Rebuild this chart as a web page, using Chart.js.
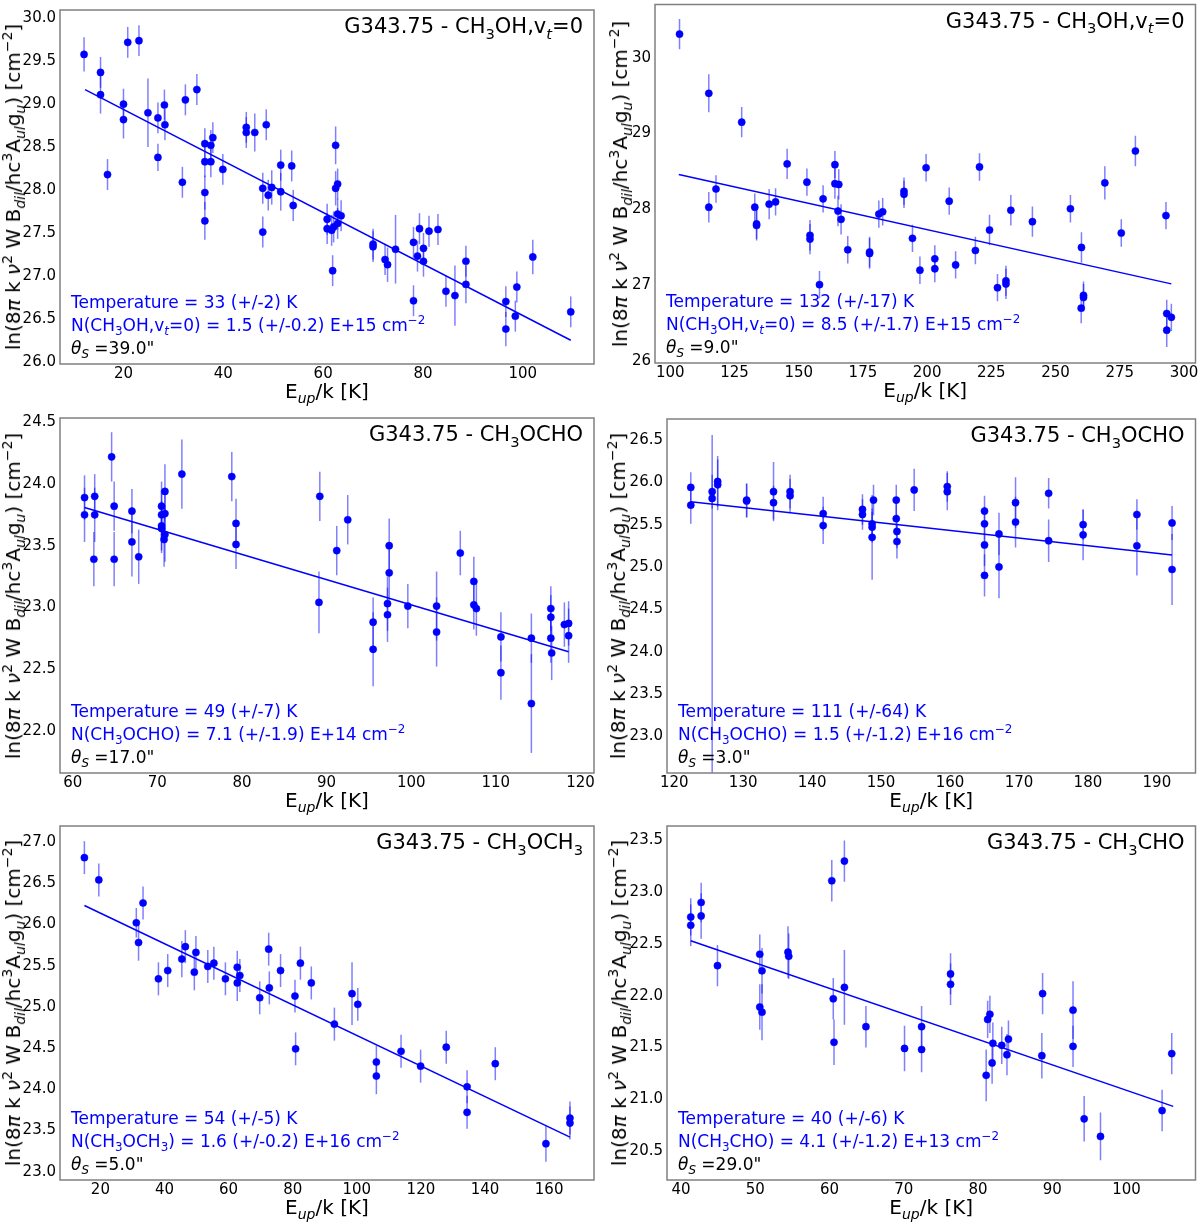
<!DOCTYPE html>
<html>
<head>
<meta charset="utf-8">
<script src="https://cdn.jsdelivr.net/npm/chart.js@4.4.1/dist/chart.umd.min.js"></script>
<style>
  body { margin: 0; background: #fff; width: 1200px; height: 1222px; position: relative; overflow: hidden;
         font-family: "DejaVu Sans", sans-serif; }
  .cell { position: absolute; width: 600px; }
  .cell canvas { position: absolute; left: 0; top: 0; }
  .txt { position: absolute; white-space: nowrap; line-height: 1; color: #000; }
  .txt sub, .txt sup { font-size: 0.7em; line-height: 0; vertical-align: baseline; position: relative; }
  .txt sub { top: 0.38em; }
  .txt sup { top: -0.55em; }
</style>
</head>
<body>
<script>
// ---- panel 1: CH3OH vt=0, theta 39"
const p1Eup = [12.1, 15.4, 15.4, 16.8, 20.0, 20.0, 20.85, 23.1, 24.9, 26.9,
               26.9, 28.2, 28.3, 31.8, 32.4, 34.7, 36.3, 36.3, 36.3, 36.3,
               37.5, 37.5, 37.9, 39.9, 44.6, 44.6, 46.3, 48.6, 47.9, 47.9,
               49.0, 49.7, 51.5, 51.5, 53.7, 54.0, 60.8, 60.8, 61.7, 62.1,
               61.9, 62.5, 62.5, 62.9, 62.9, 62.9, 63.6, 70.0, 70.0, 72.4,
               72.9, 74.5, 78.1, 78.1, 78.9, 79.3, 80.1, 80.1, 81.2, 83.0,
               84.6, 86.4, 88.6, 88.6, 96.6, 96.6, 98.5, 98.8, 102.0, 109.6];
const p1LnN = [29.58, 29.37, 29.11, 28.18, 29.00, 28.82, 29.72, 29.74, 28.90, 28.84,
               28.38, 28.99, 28.76, 28.09, 29.05, 29.17, 28.54, 28.33, 27.97, 27.64,
               28.52, 28.33, 28.61, 28.24, 28.73, 28.67, 28.67, 28.76, 28.02, 27.51,
               27.94, 28.03, 28.29, 27.98, 28.28, 27.82, 27.66, 27.55, 27.53, 27.57,
               27.06, 28.52, 28.02, 28.07, 27.72, 27.61, 27.70, 27.37, 27.34, 27.19,
               27.13, 27.31, 27.39, 26.71, 27.23, 27.55, 27.32, 27.17, 27.52, 27.54,
               26.82, 26.77, 27.17, 26.90, 26.70, 26.38, 26.53, 26.87, 27.22, 26.58];
const p1Err = [0.2, 0.18, 0.22, 0.18, 0.18, 0.22, 0.18, 0.18, 0.4, 0.18,
               0.16, 0.18, 0.18, 0.18, 0.18, 0.18, 0.18, 0.18, 0.2, 0.22,
               0.18, 0.18, 0.18, 0.18, 0.18, 0.18, 0.22, 0.18, 0.18, 0.18,
               0.18, 0.2, 0.18, 0.22, 0.18, 0.18, 0.18, 0.18, 0.18, 0.18,
               0.18, 0.22, 0.2, 0.18, 0.18, 0.18, 0.18, 0.18, 0.18, 0.18,
               0.2, 0.4, 0.18, 0.18, 0.18, 0.18, 0.18, 0.18, 0.18, 0.18,
               0.18, 0.35, 0.18, 0.22, 0.18, 0.2, 0.18, 0.18, 0.2, 0.18];
const p1FitX = [12.3, 109.6];
const p1FitY = [29.17, 26.25];
const p1XTicks = [20, 40, 60, 80, 100];
const p1YTicks = [26.0, 26.5, 27.0, 27.5, 28.0, 28.5, 29.0, 29.5, 30.0];

// ---- panel 2: CH3OH vt=0, theta 9"
const p2Eup = [103.6, 115.0, 115.0, 117.8, 127.8, 132.9, 133.6, 133.6, 138.5, 141.0,
               145.5, 153.2, 154.4, 154.4, 158.1, 159.5, 164.1, 164.1, 165.6, 165.3,
               166.5, 169.1, 177.6, 177.6, 181.2, 182.7, 191.0, 191.0, 194.3, 197.2,
               199.6, 203.0, 203.0, 208.6, 211.1, 218.8, 220.4, 224.3, 227.4, 230.7,
               230.7, 232.6, 241.0, 255.8, 260.1, 260.0, 260.9, 260.9, 269.2, 275.6,
               281.1, 293.0, 293.3, 293.3, 295.1];
const p2LnN = [30.31, 29.53, 28.03, 28.27, 29.15, 28.03, 27.81, 27.79, 28.07, 28.10,
               28.60, 28.36, 27.66, 27.61, 27.01, 28.14, 28.59, 28.34, 28.33, 27.98,
               27.87, 27.47, 27.44, 27.42, 27.94, 27.97, 28.24, 28.20, 27.62, 27.20,
               28.55, 27.35, 27.22, 28.11, 27.27, 27.46, 28.56, 27.73, 26.97, 27.06,
               27.02, 27.99, 27.84, 28.01, 27.50, 26.70, 26.87, 26.84, 28.35, 27.69,
               28.77, 27.92, 26.63, 26.41, 26.58];
const p2Err = [0.2, 0.25, 0.2, 0.18, 0.2, 0.18, 0.2, 0.2, 0.2, 0.18,
               0.2, 0.18, 0.2, 0.2, 0.18, 0.18, 0.18, 0.2, 0.2, 0.2,
               0.2, 0.18, 0.2, 0.2, 0.18, 0.18, 0.18, 0.18, 0.18, 0.18,
               0.18, 0.18, 0.18, 0.18, 0.18, 0.18, 0.18, 0.2, 0.18, 0.2,
               0.2, 0.2, 0.2, 0.18, 0.2, 0.2, 0.18, 0.18, 0.22, 0.18,
               0.2, 0.18, 0.18, 0.22, 0.18];
const p2FitX = [103.3, 295.1];
const p2FitY = [28.46, 27.02];
const p2XTicks = [100, 125, 150, 175, 200, 225, 250, 275, 300];
const p2YTicks = [26, 27, 28, 29, 30];

// ---- panel 3: CH3OCHO, theta 17"
const p3Eup = [61.4, 61.4, 62.6, 62.6, 62.5, 64.6, 64.9, 64.9, 67.0, 67.0,
               67.8, 70.5, 70.5, 70.5, 70.5, 70.9, 70.9, 70.9, 70.8, 72.9,
               78.8, 79.3, 79.3, 89.2, 89.1, 91.2, 92.5, 95.5, 95.5, 97.2,
               97.2, 97.4, 97.4, 99.6, 103.0, 103.0, 105.8, 107.4, 107.4, 107.7,
               110.6, 110.6, 114.2, 114.2, 116.5, 116.5, 116.5, 116.6, 118.1, 118.6,
               118.6];
const p3LnN = [23.89, 23.75, 23.90, 23.75, 23.39, 24.22, 23.82, 23.39, 23.78, 23.53,
               23.41, 23.82, 23.75, 23.66, 23.64, 23.76, 23.94, 23.59, 23.55, 24.08,
               24.06, 23.68, 23.51, 23.90, 23.04, 23.46, 23.71, 22.88, 22.66, 23.03,
               22.94, 23.50, 23.28, 23.01, 23.01, 22.80, 23.44, 23.21, 23.02, 22.99,
               22.76, 22.47, 22.75, 22.22, 22.99, 22.92, 22.75, 22.63, 22.86, 22.87,
               22.77];
const p3Err = [0.18, 0.22, 0.18, 0.22, 0.22, 0.2, 0.2, 0.22, 0.18, 0.28,
               0.22, 0.2, 0.2, 0.2, 0.2, 0.2, 0.22, 0.22, 0.22, 0.28,
               0.2, 0.2, 0.2, 0.2, 0.25, 0.2, 0.2, 0.2, 0.3, 0.22,
               0.22, 0.22, 0.22, 0.18, 0.28, 0.28, 0.18, 0.2, 0.2, 0.22,
               0.2, 0.22, 0.2, 0.4, 0.18, 0.18, 0.2, 0.22, 0.18, 0.18,
               0.22];
const p3FitX = [61.4, 118.6];
const p3FitY = [23.81, 22.64];
const p3XTicks = [60, 70, 80, 90, 100, 110, 120];
const p3YTicks = [22.0, 22.5, 23.0, 23.5, 24.0, 24.5];

// ---- panel 4: CH3OCHO, theta 3"
const p4Eup = [122.4, 122.4, 125.5, 125.5, 126.3, 126.3, 130.5, 130.5, 134.4, 134.4,
               136.8, 136.8, 141.6, 141.6, 147.3, 147.3, 148.7, 148.7, 148.7, 148.9,
               152.2, 152.2, 152.3, 152.3, 154.8, 159.6, 159.6, 165.0, 165.0, 165.0,
               165.0, 167.1, 167.1, 169.5, 169.5, 174.3, 174.3, 179.3, 179.3, 187.1,
               187.1, 192.2, 192.2];
const p4LnN = [25.94, 25.73, 25.89, 25.81, 26.01, 25.97, 25.79, 25.78, 25.89, 25.76,
               25.89, 25.84, 25.63, 25.49, 25.68, 25.62, 25.51, 25.47, 25.35, 25.79,
               25.79, 25.57, 25.42, 25.30, 25.91, 25.95, 25.89, 25.66, 25.51, 25.26,
               24.90, 25.39, 25.00, 25.76, 25.53, 25.87, 25.31, 25.50, 25.38, 25.62,
               25.25, 25.52, 24.97];
const p4ErrUp = [0.18, 0.22, 0.2, 0.75, 0.3, 0.3, 0.2, 0.2, 0.35, 0.2,
                 0.2, 0.2, 0.2, 0.22, 0.18, 0.18, 0.18, 0.18, 0.5, 0.18,
                 0.18, 0.2, 0.2, 0.2, 0.25, 0.18, 0.22, 0.18, 0.2, 0.25,
                 0.25, 0.25, 0.37, 0.3, 0.3, 0.18, 0.25, 0.18, 0.3, 0.18,
                 0.35, 0.2, 0.42];
const p4ErrDown = [0.18, 0.22, 0.2, 3.3, 0.3, 0.3, 0.2, 0.2, 0.35, 0.2,
                   0.2, 0.2, 0.2, 0.22, 0.18, 0.18, 0.18, 0.18, 0.5, 0.18,
                   0.18, 0.2, 0.2, 0.2, 0.25, 0.18, 0.22, 0.18, 0.2, 0.25,
                   0.25, 0.25, 0.37, 0.3, 0.3, 0.18, 0.25, 0.18, 0.3, 0.18,
                   0.35, 0.2, 0.42];
const p4FitX = [122.4, 192.2];
const p4FitY = [25.77, 25.14];
const p4XTicks = [120, 130, 140, 150, 160, 170, 180, 190];
const p4YTicks = [23.0, 23.5, 24.0, 24.5, 25.0, 25.5, 26.0, 26.5];

// ---- panel 5: CH3OCH3, theta 5"
const p5Eup = [15.0, 19.5, 31.2, 31.9, 33.3, 38.1, 41.0, 45.4, 46.5, 49.3,
               49.8, 53.5, 55.4, 59.0, 62.7, 62.7, 63.5, 69.7, 72.5, 72.7,
               76.2, 80.7, 80.9, 82.4, 85.8, 93.0, 98.5, 100.3, 106.1, 106.1,
               113.8, 119.9, 127.9, 134.4, 134.4, 143.2, 159.0, 166.5, 166.5];
const p5LnN = [26.81, 26.54, 26.02, 25.78, 26.26, 25.34, 25.44, 25.58, 25.73, 25.42,
               25.66, 25.49, 25.53, 25.34, 25.48, 25.29, 25.38, 25.11, 25.70, 25.23,
               25.44, 25.13, 24.49, 25.53, 25.29, 24.79, 25.16, 25.03, 24.33, 24.16,
               24.46, 24.28, 24.51, 24.03, 23.72, 24.31, 23.34, 23.65, 23.59];
const p5Err = [0.2, 0.2, 0.18, 0.22, 0.2, 0.2, 0.2, 0.22, 0.2, 0.22,
               0.2, 0.2, 0.2, 0.2, 0.2, 0.22, 0.2, 0.2, 0.2, 0.2,
               0.2, 0.2, 0.2, 0.2, 0.2, 0.2, 0.38, 0.2, 0.2, 0.22,
               0.2, 0.2, 0.2, 0.2, 0.2, 0.2, 0.22, 0.2, 0.2];
const p5FitX = [15.0, 166.5];
const p5FitY = [26.23, 23.42];
const p5XTicks = [20, 40, 60, 80, 100, 120, 140, 160];
const p5YTicks = [23.0, 23.5, 24.0, 24.5, 25.0, 25.5, 26.0, 26.5, 27.0];

// ---- panel 6: CH3CHO, theta 29"
const p6Eup = [41.3, 41.3, 42.7, 42.7, 44.9, 50.6, 50.6, 50.9, 50.9, 54.4,
               54.5, 60.3, 60.5, 60.6, 62.0, 62.0, 64.9, 70.1, 72.4, 72.4,
               76.3, 76.3, 81.1, 81.3, 81.6, 81.9, 82.0, 83.2, 83.9, 84.1,
               88.6, 88.7, 92.8, 92.8, 94.3, 96.5, 104.8, 106.1];
const p6LnN = [22.76, 22.68, 22.90, 22.77, 22.29, 22.40, 21.89, 22.24, 21.84, 22.42,
               22.38, 23.11, 21.97, 21.55, 23.30, 22.08, 21.70, 21.49, 21.70, 21.48,
               22.21, 22.11, 21.23, 21.77, 21.82, 21.35, 21.54, 21.52, 21.43, 21.58,
               21.42, 22.02, 21.86, 21.51, 20.81, 20.64, 20.89, 21.44];
const p6Err = [0.18, 0.2, 0.19, 0.22, 0.2, 0.19, 0.22, 0.22, 0.27, 0.25,
               0.22, 0.2, 0.2, 0.22, 0.2, 0.36, 0.2, 0.22, 0.2, 0.22,
               0.2, 0.2, 0.25, 0.18, 0.18, 0.2, 0.2, 0.18, 0.2, 0.18,
               0.22, 0.2, 0.28, 0.2, 0.22, 0.23, 0.2, 0.2];
const p6FitX = [41.3, 106.3];
const p6FitY = [22.53, 20.93];
const p6XTicks = [40, 50, 60, 70, 80, 90, 100];
const p6YTicks = [20.5, 21.0, 21.5, 22.0, 22.5, 23.0, 23.5];

// ---- labels
const YLABEL = 'ln(8<i>π</i> k <i>ν</i><sup>2</sup> W B<sub><i>dil</i></sub>/hc<sup>3</sup>A<sub><i>ul</i></sub>g<sub><i>u</i></sub>) [cm<sup>−2</sup>]';
const XLABEL = 'E<sub><i>up</i></sub>/k [K]';
const T_CH3OH = 'G343.75 - CH<sub>3</sub>OH,v<sub><i>t</i></sub>=0';
const N_CH3OH = 'N(CH<sub>3</sub>OH,v<sub><i>t</i></sub>=0)';
const theta = s => '<i>θ</i><sub><i>S</i></sub> =' + s + '"';
const cm2 = ' cm<sup>−2</sup>';

const FONT = '"DejaVu Sans", sans-serif';
Chart.defaults.font.family = FONT;
Chart.defaults.color = '#000';

// vertical error bars drawn through the chart's own scales
const errorBars = {
  id: 'errorBars',
  beforeDatasetsDraw(chart) {
    const ds = chart.data.datasets.find(d => d.errUp);
    if (!ds) return;
    const { ctx, chartArea: a, scales: { x, y } } = chart;
    ctx.save();
    ctx.beginPath();
    ctx.rect(a.left, a.top, a.right - a.left, a.bottom - a.top);
    ctx.clip();
    ctx.strokeStyle = 'rgba(0,0,255,0.5)';
    ctx.lineWidth = 1.5;
    ds.data.forEach((p, i) => {
      const px = x.getPixelForValue(p.x);
      ctx.beginPath();
      ctx.moveTo(px, y.getPixelForValue(p.y - ds.errDown[i]));
      ctx.lineTo(px, y.getPixelForValue(p.y + ds.errUp[i]));
      ctx.stroke();
    });
    ctx.restore();
  }
};

// matplotlib-like box around the axes
const frame = {
  id: 'frame',
  afterDatasetsDraw(chart) {
    const { ctx, chartArea: a } = chart;
    ctx.save();
    ctx.strokeStyle = '#808080';
    ctx.lineWidth = 1.5;
    ctx.strokeRect(a.left, a.top, a.right - a.left, a.bottom - a.top);
    ctx.restore();
  }
};

const panels = [
  { left: 0, top: 0, h: 408, padTop: 10, padRight: 6, yW: 60, xH: 44, ylabX: 13,
    xr: [7.28, 114.26], yr: [25.973, 30.097], yDec: 1, xt: p1XTicks, yt: p1YTicks,
    eup: p1Eup, lnN: p1LnN, errUp: p1Err, errDown: p1Err, fitX: p1FitX, fitY: p1FitY,
    title: T_CH3OH,
    notes: ['Temperature = 33 (+/-2) K', N_CH3OH + ' = 1.5 (+/-0.2) E+15' + cm2, theta('39.0')] },
  { left: 600, top: 0, h: 408, padTop: 2, padRight: 1, yW: 55, xH: 45, ylabX: 20,
    xr: [94.05, 304.5], yr: [25.978, 30.70], yDec: 0, xt: p2XTicks, yt: p2YTicks,
    eup: p2Eup, lnN: p2LnN, errUp: p2Err, errDown: p2Err, fitX: p2FitX, fitY: p2FitY,
    title: T_CH3OH,
    notes: ['Temperature = 132 (+/-17) K', N_CH3OH + ' = 8.5 (+/-1.7) E+15' + cm2, theta('9.0')] },
  { left: 0, top: 408, h: 408, padTop: 10, padRight: 6, yW: 60, xH: 43, ylabX: 13,
    xr: [58.5, 121.6], yr: [21.657, 24.535], yDec: 1, xt: p3XTicks, yt: p3YTicks,
    eup: p3Eup, lnN: p3LnN, errUp: p3Err, errDown: p3Err, fitX: p3FitX, fitY: p3FitY,
    title: 'G343.75 - CH<sub>3</sub>OCHO',
    notes: ['Temperature = 49 (+/-7) K', 'N(CH<sub>3</sub>OCHO) = 7.1 (+/-1.9) E+14' + cm2, theta('17.0')] },
  { left: 600, top: 408, h: 408, padTop: 11, padRight: 1, yW: 67, xH: 43, ylabX: 18,
    xr: [118.95, 195.6], yr: [22.566, 26.748], yDec: 1, xt: p4XTicks, yt: p4YTicks,
    eup: p4Eup, lnN: p4LnN, errUp: p4ErrUp, errDown: p4ErrDown, fitX: p4FitX, fitY: p4FitY,
    title: 'G343.75 - CH<sub>3</sub>OCHO',
    notes: ['Temperature = 111 (+/-64) K', 'N(CH<sub>3</sub>OCHO) = 1.5 (+/-1.2) E+16' + cm2, theta('3.0')] },
  { left: 0, top: 816, h: 406, padTop: 10, padRight: 6, yW: 60, xH: 42, ylabX: 13,
    xr: [7.39, 174.0], yr: [22.899, 27.194], yDec: 1, xt: p5XTicks, yt: p5YTicks,
    eup: p5Eup, lnN: p5LnN, errUp: p5Err, errDown: p5Err, fitX: p5FitX, fitY: p5FitY,
    title: 'G343.75 - CH<sub>3</sub>OCH<sub>3</sub>',
    notes: ['Temperature = 54 (+/-5) K', 'N(CH<sub>3</sub>OCH<sub>3</sub>) = 1.6 (+/-0.2) E+16' + cm2, theta('5.0')] },
  { left: 600, top: 816, h: 406, padTop: 10, padRight: 1, yW: 67, xH: 42, ylabX: 19,
    xr: [38.1, 109.3], yr: [20.219, 23.639], yDec: 1, xt: p6XTicks, yt: p6YTicks,
    eup: p6Eup, lnN: p6LnN, errUp: p6Err, errDown: p6Err, fitX: p6FitX, fitY: p6FitY,
    title: 'G343.75 - CH<sub>3</sub>CHO',
    notes: ['Temperature = 40 (+/-6) K', 'N(CH<sub>3</sub>CHO) = 4.1 (+/-1.2) E+13' + cm2, theta('29.0')] }
];

function place(cell, html, css) {
  const d = document.createElement('div');
  d.className = 'txt';
  d.innerHTML = html;
  Object.assign(d.style, css);
  cell.appendChild(d);
}

const tickFont = { family: FONT, size: 15 };

panels.forEach(p => {
  const cell = document.createElement('div');
  cell.className = 'cell';
  cell.style.left = p.left + 'px';
  cell.style.top = p.top + 'px';
  cell.style.height = p.h + 'px';
  document.body.appendChild(cell);

  const canvas = document.createElement('canvas');
  canvas.width = 600;
  canvas.height = p.h;
  cell.appendChild(canvas);

  const points = p.eup.map((e, i) => ({ x: e, y: p.lnN[i] }));
  const fit = p.fitX.map((e, i) => ({ x: e, y: p.fitY[i] }));

  const chart = new Chart(canvas, {
    type: 'scatter',
    data: {
      datasets: [
        { type: 'line', data: fit, borderColor: '#0000ff', borderWidth: 1.5,
          pointRadius: 0, fill: false, tension: 0 },
        { data: points, backgroundColor: '#0000ff', borderColor: '#0000ff',
          borderWidth: 0.5, pointRadius: 3.6, errUp: p.errUp, errDown: p.errDown }
      ]
    },
    options: {
      responsive: false,
      animation: false,
      events: [],
      layout: { padding: { top: p.padTop, right: p.padRight, left: 0, bottom: 0 } },
      plugins: { legend: { display: false }, tooltip: { enabled: false } },
      scales: {
        x: {
          type: 'linear', min: p.xr[0], max: p.xr[1],
          grid: { display: false, drawTicks: false }, border: { display: false },
          afterBuildTicks: s => { s.ticks = p.xt.map(v => ({ value: v })); },
          afterFit: s => { s.height = p.xH; s.paddingLeft = 0; s.paddingRight = 0; },
          ticks: { padding: 1, autoSkip: false, maxRotation: 0, color: '#000', font: tickFont,
                   callback: v => v.toFixed(0) }
        },
        y: {
          type: 'linear', min: p.yr[0], max: p.yr[1],
          grid: { display: false, drawTicks: false }, border: { display: false },
          afterBuildTicks: s => { s.ticks = p.yt.map(v => ({ value: v })); },
          afterFit: s => { s.width = p.yW; s.paddingTop = 0; s.paddingBottom = 0; },
          ticks: { padding: 4, autoSkip: false, color: '#000', font: tickFont,
                   callback: v => v.toFixed(p.yDec) }
        }
      }
    },
    plugins: [errorBars, frame]
  });

  const ca = chart.chartArea;
  place(cell, p.title, { fontSize: '21px', right: (600 - ca.right + 11) + 'px',
                         top: (ca.top + 24 - 0.846 * 21) + 'px' });
  const base = [-56, -33, -10];
  p.notes.forEach((t, i) => place(cell, t, {
    fontSize: '17px', color: i < 2 ? '#0000ff' : '#000',
    left: (ca.left + 11) + 'px', top: (ca.bottom + base[i] - 0.846 * 17) + 'px'
  }));
  place(cell, XLABEL, { fontSize: '20px', left: ((ca.left + ca.right) / 2) + 'px',
                        top: (ca.bottom + 34 - 0.846 * 20) + 'px', transform: 'translateX(-50%)' });
  place(cell, YLABEL, { fontSize: '20px', left: p.ylabX + 'px', top: ((ca.top + ca.bottom) / 2) + 'px',
                        transform: 'translate(-50%,-50%) rotate(-90deg)' });
});
</script>
</body>
</html>
